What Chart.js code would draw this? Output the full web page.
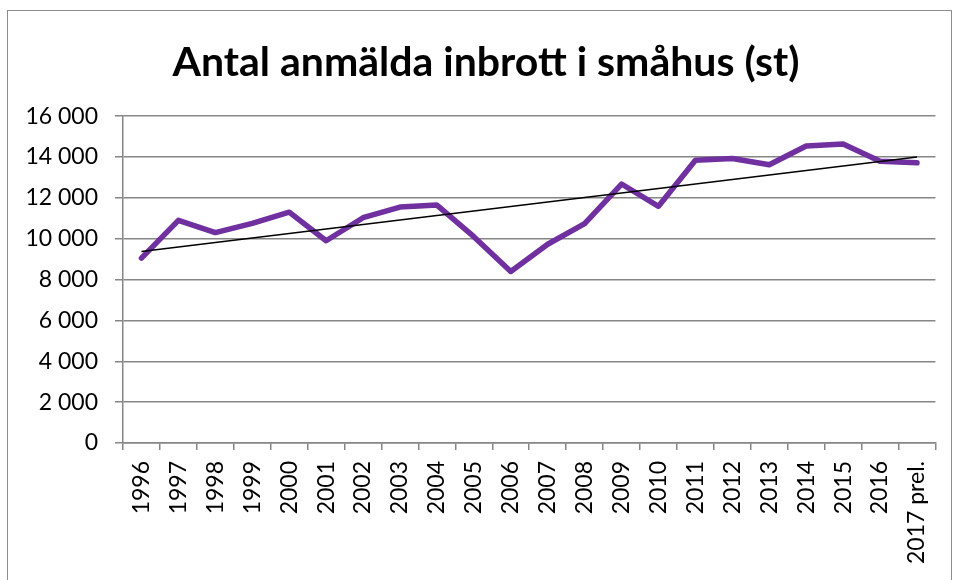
<!DOCTYPE html>
<html>
<head>
<meta charset="utf-8">
<script src="https://cdn.jsdelivr.net/npm/chart.js@4/dist/chart.umd.min.js"></script>
<style>
  html, body { margin: 0; padding: 0; background: #fff; }
  #wrap { position: relative; width: 956px; height: 580px; }
  #frame { position: absolute; left: 7px; top: 10px; width: 943px; height: 600px; border: 1px solid #8c8c8c; pointer-events: none; }
  canvas { position: absolute; left: 0; top: 0; }
</style>
</head>
<body>
<div id="wrap">
  <canvas id="c" width="956" height="580"></canvas>
  <div id="frame"></div>
</div>
<script>
const titleText = 'Antal anmälda inbrott i småhus (st)';
const years = ['1996','1997','1998','1999','2000','2001','2002','2003','2004','2005','2006','2007','2008','2009','2010','2011','2012','2013','2014','2015','2016','2017 prel.'];
const burglaries = [9050, 10900, 10300, 10750, 11300, 9900, 11030, 11550, 11650, 10100, 8400, 9730, 10740, 12680, 11590, 13840, 13930, 13620, 14540, 14640, 13800, 13720];
const trendStart = 9370;
const trendEnd = 14000;
const trend = years.map((_, i) => i === 0 ? trendStart : (i === years.length - 1 ? trendEnd : null));
const yTicks = [0, 2000, 4000, 6000, 8000, 10000, 12000, 14000, 16000];

function fmt(v) {
  const s = String(Math.round(v));
  return s.replace(/\B(?=(\d{3})+(?!\d))/g, ' ');
}

const FONT = 'Lato, "Open Sans", sans-serif';

// shift the title box slightly to the right, as in the original layout
const titleShift = {
  id: 'titleShift',
  afterLayout(chart) {
    const t = chart.titleBlock;
    if (t) { t.left += 17; t.right += 17; }
  }
};

new Chart(document.getElementById('c'), {
  type: 'line',
  data: {
    labels: years,
    datasets: [
      {
        data: burglaries,
        borderColor: '#7030A0',
        borderWidth: 5.5,
        pointRadius: 0,
        borderJoinStyle: 'round',
        borderCapStyle: 'round',
        tension: 0,
        order: 2
      },
      {
        data: trend,
        spanGaps: true,
        borderColor: '#000000',
        borderWidth: 1.5,
        pointRadius: 0,
        tension: 0,
        order: 1
      }
    ]
  },
  plugins: [titleShift],
  options: {
    responsive: false,
    animation: false,
    devicePixelRatio: 1,
    layout: { padding: { top: 28, right: 18, bottom: 0, left: 0 } },
    plugins: {
      legend: { display: false },
      tooltip: { enabled: false },
      title: {
        display: true,
        text: titleText,
        color: '#000',
        font: { family: FONT, size: 41, weight: 'bold', lineHeight: 1.2 },
        padding: { top: 10, bottom: 29 }
      }
    },
    scales: {
      x: {
        type: 'category',
        offset: true,
        grid: { display: true, drawOnChartArea: false, drawTicks: true, tickLength: 7, offset: true, color: '#868686', lineWidth: 1.5 },
        border: { display: true, color: '#868686', width: 1.5 },
        ticks: {
          color: '#000',
          font: { family: FONT, size: 23 },
          minRotation: 90, maxRotation: 90,
          autoSkip: false,
          padding: 11
        },
        afterFit: (s) => { s.height = 137; }
      },
      y: {
        min: 0, max: 16000,
        afterBuildTicks: (s) => { s.ticks = yTicks.map(v => ({ value: v })); },
        grid: { color: '#868686', lineWidth: 1.5, drawTicks: true, tickLength: 8 },
        border: { display: true, color: '#868686', width: 1.5 },
        ticks: {
          color: '#000',
          font: { family: FONT, size: 23 },
          padding: 17,
          callback: (v) => fmt(v)
        },
        afterFit: (s) => { s.width = 123; }
      }
    }
  }
});
</script>
</body>
</html>
